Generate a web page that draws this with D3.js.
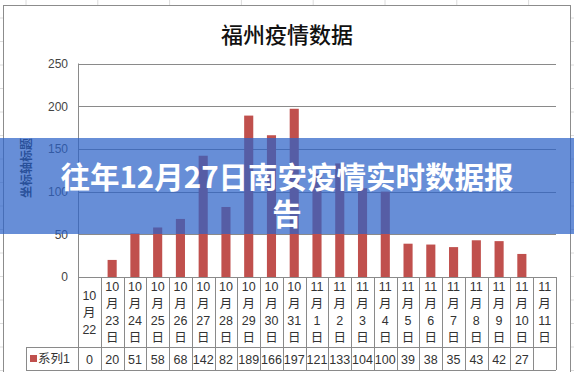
<!DOCTYPE html>
<html><head><meta charset="utf-8">
<script src="https://cdn.jsdelivr.net/npm/d3@7"></script>
<style>
html,body{margin:0;padding:0;background:#fff;}
svg{display:block;}
</style></head>
<body>
<svg id="c" width="574" height="372"></svg>
<script>
// ---- data ----
const chartTitle = "福州疫情数据";
const yAxisTitle = "坐标轴标题";
const seriesName = "系列1";
const categories = [
  ["10","月","22"],
  ["10","月","23","日"],["10","月","24","日"],["10","月","25","日"],["10","月","26","日"],
  ["10","月","27","日"],["10","月","28","日"],["10","月","29","日"],["10","月","30","日"],
  ["10","月","31","日"],
  ["11","月","1","日"],["11","月","2","日"],["11","月","3","日"],["11","月","4","日"],
  ["11","月","5","日"],["11","月","6","日"],["11","月","7","日"],["11","月","8","日"],
  ["11","月","9","日"],["11","月","10","日"],["11","月","11","日"]
];
const values = [0,20,51,58,68,142,82,189,166,197,121,133,104,100,39,38,35,43,42,27,null];
const yTicks = [0,50,100,150,200,250];
const bannerLines = ["往年12月27日南安疫情实时数据报","告"];

// ---- layout ----
const svg = d3.select("#c");
const W = 574, H = 372;
const plot = {left:78, right:556, top:63.5, bottom:277};
const tableMid = 347.5, tableBottom = 370, legendLeft = 26;
const barColor = "#c0504d";
const gridColor = "#8a8a8a";

// spreadsheet background grid (faint)
const bg = svg.append("g");
d3.range(26, W, 71.8).forEach(x => bg.append("line").attr("x1",x).attr("x2",x).attr("y1",0).attr("y2",5).attr("stroke","#dcdcdc"));
d3.range(18, H, 23.5).forEach(y => {
  bg.append("line").attr("x1",0).attr("x2",3).attr("y1",y).attr("y2",y).attr("stroke","#dcdcdc");
  bg.append("line").attr("x1",571).attr("x2",W).attr("y1",y).attr("y2",y).attr("stroke","#dcdcdc");
});
// chart border
svg.append("rect").attr("x",3.5).attr("y",5.5).attr("width",567).attr("height",380)
  .attr("fill","#fff").attr("stroke","#8c8c8c");

// title
svg.append("text").attr("x",287).attr("y",33).attr("text-anchor","middle")
  .attr("dominant-baseline","central")
  .style("font-family","'Noto Sans CJK SC'").style("font-size","22px").style("font-weight","500")
  .attr("fill","#111").text(chartTitle);

// scales
const x = d3.scaleBand().domain(d3.range(categories.length))
  .range([plot.left, plot.right]).paddingInner(0.6).paddingOuter(0.3);
const step = x.step();
const y = d3.scaleLinear().domain([0,250]).range([plot.bottom, plot.top]);

// gridlines
svg.append("g").selectAll("line").data(yTicks.filter(d=>d>0)).join("line")
  .attr("x1",plot.left).attr("x2",plot.right)
  .attr("y1",d=>Math.round(y(d))+0.5).attr("y2",d=>Math.round(y(d))+0.5)
  .attr("stroke",gridColor).attr("stroke-width",1);

// y axis (labels only, via d3 axis)
const yAxis = svg.append("g").attr("transform",`translate(${plot.left},0)`)
  .call(d3.axisLeft(y).tickValues(yTicks).tickSize(0).tickPadding(10));
yAxis.select(".domain").remove();
yAxis.selectAll("text").style("font-family","'Liberation Sans', Arial, sans-serif")
  .style("font-size","12px").attr("fill","#444");

// axis title
svg.append("text").attr("transform","translate(25,168) rotate(-90)")
  .attr("text-anchor","middle").attr("dominant-baseline","central")
  .style("font-family","'Noto Sans CJK SC'").style("font-size","12px").style("font-weight","bold")
  .attr("fill","#222").text(yAxisTitle);

// bars
svg.append("g").selectAll("rect").data(values.map((v,i)=>({v,i})).filter(d=>d.v)).join("rect")
  .attr("x",d=>x(d.i)).attr("width",x.bandwidth())
  .attr("y",d=>y(d.v)).attr("height",d=>y(0)-y(d.v))
  .attr("fill",barColor);

// plot left line and axis line
svg.append("line").attr("x1",plot.left+0.5).attr("x2",plot.left+0.5).attr("y1",plot.top).attr("y2",tableBottom).attr("stroke",gridColor);
svg.append("line").attr("x1",plot.left).attr("x2",plot.right).attr("y1",plot.bottom+0.5).attr("y2",plot.bottom+0.5).attr("stroke",gridColor);

// data table
const tbl = svg.append("g");
const colEdges = d3.range(categories.length+1).map(i => plot.left + step*i);
tbl.selectAll("line.v").data(colEdges.slice(1)).join("line")
  .attr("x1",d=>Math.round(d)+0.5).attr("x2",d=>Math.round(d)+0.5)
  .attr("y1",plot.bottom).attr("y2",tableBottom).attr("stroke",gridColor);
tbl.append("line").attr("x1",legendLeft).attr("x2",plot.right).attr("y1",tableMid).attr("y2",tableMid).attr("stroke",gridColor);
tbl.append("line").attr("x1",legendLeft).attr("x2",plot.right).attr("y1",tableBottom+0.5).attr("y2",tableBottom+0.5).attr("stroke",gridColor);
tbl.append("line").attr("x1",legendLeft+0.5).attr("x2",legendLeft+0.5).attr("y1",tableMid).attr("y2",tableBottom).attr("stroke",gridColor);

const font = "'Liberation Sans','Noto Sans CJK SC',sans-serif";
categories.forEach((lines,i) => {
  const cx = x(i) + x.bandwidth()/2;
  const lh = 17, cy = 312.5;
  lines.forEach((t,j) => {
    tbl.append("text").attr("x",cx).attr("y",cy + (j-(lines.length-1)/2)*lh)
      .attr("text-anchor","middle").attr("dominant-baseline","central")
      .style("font-family",font).style("font-size","12.5px").attr("fill","#333").text(t);
  });
  if (values[i] !== null) {
    tbl.append("text").attr("x",cx).attr("y",359.5)
      .attr("text-anchor","middle").attr("dominant-baseline","central")
      .style("font-family",font).style("font-size","12.5px").attr("fill","#333").text(values[i]);
  }
});
// legend key
tbl.append("rect").attr("x",30).attr("y",355).attr("width",7).attr("height",7).attr("fill",barColor);
tbl.append("text").attr("x",38).attr("y",359).attr("dominant-baseline","central")
  .style("font-family",font).style("font-size","12.5px").attr("fill","#333").text(seriesName);

// banner overlay
svg.append("rect").attr("x",0).attr("y",138).attr("width",W).attr("height",96)
  .attr("fill","rgb(45,98,200)").attr("fill-opacity",0.72);
bannerLines.forEach((t,j) => {
  svg.append("text").attr("x",287).attr("y",175 + j*37)
    .attr("text-anchor","middle").attr("dominant-baseline","central")
    .style("font-family","'Noto Sans CJK SC'").style("font-size","29.5px").style("font-weight","bold")
    .attr("fill","#fff").text(t);
});
</script>
</body></html>
